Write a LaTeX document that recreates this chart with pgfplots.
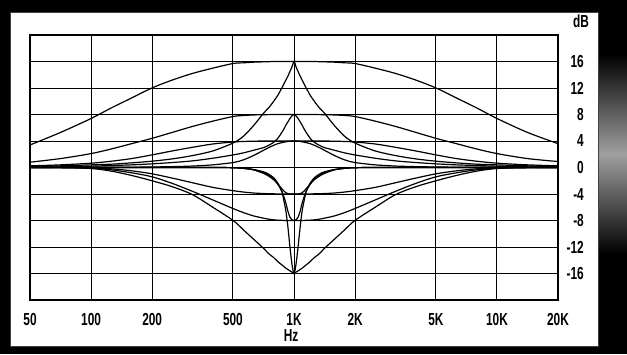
\documentclass[border=0pt]{standalone}
\usepackage{fontspec}
\setmainfont{Liberation Sans}[FakeStretch=0.68]
\usepackage{pgfplots}
\usepackage{pgfplotstable}
\pgfplotsset{compat=1.18}
\pgfplotsset{eq/.style={black, solid, line width=1.2bp, smooth, tension=0.5, mark=none}}

\pgfplotstableread{
f      W16   W8    W4    N16   N8    N4    C16W   C8W    C4W    C16N   C8N    C4N
50     3.4   0.8   0.25  0.15  0.05  0     0      0      0      0      0      0
70.79  5.3   1.35  0.4   0.25  0.1   0.02  -0.02  -0.02  0      0      0      0
100    7.4   2.1   0.65  0.4   0.2   0.03  -0.15  -0.1   -0.05  0      0      0
125.9  9.0   2.8   0.95  0.5   0.3   0.04  -0.55  -0.35  -0.2   0      0      0
158.5  10.5  3.6   1.35  0.7   0.4   0.05  -1.2   -0.8   -0.5   0      0      0
199.5  12.0  4.4   1.9   0.95  0.55  0.08  -2.0   -1.4   -0.95  0      0      0
251.2  13.2  5.3   2.5   1.3   0.75  0.13  -2.9   -2.4   -1.6   0      0      0
316.2  14.2  6.2   3.05  1.8   1.0   0.22  -4.1   -3.6   -2.3   0      0      0
398.1  15.0  7.0   3.55  2.5   1.4   0.4   -6.0   -4.9   -3.0   0      0      0
501.2  15.7  7.7   3.85  3.7   1.9   0.75  -8.0   -6.2   -3.5   -0.03  -0.03  -0.03
562.3  15.8  7.85  3.93  4.7   2.2   1.15  -9.4   -6.8   -3.7   -0.12  -0.12  -0.12
631.0  15.9  7.93  3.97  6.3   2.6   1.8   -10.8  -7.3   -3.85  -0.3   -0.33  -0.35
707.9  15.95 7.97  4.0   8.2   3.0   2.6   -12.2  -7.65  -3.93  -0.65  -0.75  -0.9
749.9  15.97 7.98  4.0   9.0   3.35  3.0   -13.0  -7.8   -3.96  -1.0   -1.15  -1.3
794.3  16    8     4     10.0  3.8   3.35  -13.6  -7.9   -3.97  -1.55  -1.7   -1.85
831.8  16    8     4     10.9  4.4   3.6   -14.2  -7.95  -4     -2.35  -2.5   -2.5
871.0  16    8     4     12.0  5.3   3.75  -14.7  -7.97  -4     -3.6   -3.6   -3.2
891.3  16    8     4     12.6  5.8   3.82  -14.95 -8     -4     -5.0   -4.4   -3.55
912.0  16    8     4     13.2  6.4   3.88  -15.2  -8     -4     -6.6   -5.4   -3.8
933.3  16    8     4     13.8  6.9   3.93  -15.4  -8     -4     -9.0   -6.6   -3.95
955.0  16    8     4     14.5  7.4   3.97  -15.6  -8     -4     -12.0  -7.5   -4
977.2  16    8     4     15.2  7.8   4.0   -15.8  -8     -4     -14.6  -7.9   -4
1000   16    8     4     16    8     4     -16    -8     -4     -16    -8     -4
1023   16    8     4     15.2  7.8   4.0   -15.8  -8     -4     -14.6  -7.9   -4
1047   16    8     4     14.5  7.4   3.97  -15.6  -8     -4     -12.0  -7.5   -4
1072   16    8     4     13.8  6.9   3.93  -15.4  -8     -4     -9.0   -6.6   -3.95
1096   16    8     4     13.2  6.4   3.88  -15.2  -8     -4     -6.6   -5.4   -3.8
1122   16    8     4     12.6  5.8   3.82  -14.95 -8     -4     -5.0   -4.4   -3.55
1148   16    8     4     12.0  5.3   3.75  -14.7  -7.97  -4     -3.6   -3.6   -3.2
1202   16    8     4     10.9  4.4   3.6   -14.2  -7.95  -4     -2.35  -2.5   -2.5
1259   16    8     4     10.0  3.8   3.35  -13.6  -7.9   -3.97  -1.55  -1.7   -1.85
1334   15.97 7.98  4.0   9.0   3.35  3.0   -13.0  -7.8   -3.96  -1.0   -1.15  -1.3
1413   15.95 7.97  4.0   8.2   3.0   2.6   -12.2  -7.65  -3.93  -0.65  -0.75  -0.9
1585   15.9  7.93  3.97  6.3   2.6   1.8   -10.8  -7.3   -3.85  -0.3   -0.33  -0.35
1778   15.8  7.85  3.93  4.7   2.2   1.15  -9.4   -6.8   -3.7   -0.12  -0.12  -0.12
1995   15.7  7.7   3.85  3.7   1.9   0.75  -8.0   -6.2   -3.5   -0.03  -0.03  -0.03
2512   15.0  7.0   3.55  2.5   1.4   0.4   -6.0   -4.9   -3.0   0      0      0
3162   14.2  6.2   3.05  1.8   1.0   0.22  -4.1   -3.6   -2.3   0      0      0
3981   13.2  5.3   2.5   1.3   0.75  0.13  -2.9   -2.4   -1.6   0      0      0
5012   12.0  4.4   1.9   0.95  0.55  0.08  -2.0   -1.4   -0.95  0      0      0
6310   10.5  3.6   1.35  0.7   0.4   0.05  -1.2   -0.8   -0.5   0      0      0
7943   9.0   2.8   0.95  0.5   0.3   0.04  -0.55  -0.35  -0.2   0      0      0
10000  7.4   2.1   0.65  0.4   0.2   0.03  -0.15  -0.1   -0.05  0      0      0
14125  5.3   1.35  0.4   0.25  0.1   0.02  -0.02  -0.02  0      0      0      0
20000  3.6   0.9   0.25  0.15  0.05  0     0      0      0      0      0      0
}\eqdata

\begin{document}
\begin{tikzpicture}[x=1bp,y=1bp]
\fill[black] (0,0) rectangle (627,354);
\shade[top color=black, bottom color=black, middle color=gray!75] (599,100) rectangle (627,300);
\fill[white] (10,8) rectangle (598,342);
\draw[black!75, line width=0.8bp] (10,8) rectangle (598,342);
\begin{axis}[
  at={(30bp,54bp)}, anchor=south west,
  scale only axis, width=528bp, height=265bp,
  xmode=log, xmin=50, xmax=20000,
  xtick={50,100,200,500,1000,2000,5000,10000,20000},
  xticklabels={50,100,200,500,1K,2K,5K,10K,20K},
  minor xtick={},
  ymin=-20, ymax=20,
  ytick={-20,-16,-12,-8,-4,0,4,8,12,16,20},
  yticklabels={,-16,-12,-8,-4,0,4,8,12,16,},
  yticklabel pos=right,
  grid=major,
  major grid style={black, line width=1bp},
  axis line style={black, line width=1.2bp},
  major tick length=0pt,
  tick label style={font=\fontsize{17.5}{17.5}\selectfont\bfseries, inner sep=0pt},
  xticklabel style={anchor=north, yshift=-13bp},
  yticklabel style={anchor=east, xshift=26bp},
]
\addplot[eq] table[x=f, y=W16] {\eqdata};
\addplot[eq] table[x=f, y=W8] {\eqdata};
\addplot[eq] table[x=f, y=W4] {\eqdata};
\addplot[eq] table[x=f, y=N16] {\eqdata};
\addplot[eq] table[x=f, y=N8] {\eqdata};
\addplot[eq] table[x=f, y=N4] {\eqdata};
\addplot[eq] table[x=f, y=C16W] {\eqdata};
\addplot[eq] table[x=f, y=C8W] {\eqdata};
\addplot[eq] table[x=f, y=C4W] {\eqdata};
\addplot[eq] table[x=f, y=C16N] {\eqdata};
\addplot[eq] table[x=f, y=C8N] {\eqdata};
\addplot[eq] table[x=f, y=C4N] {\eqdata};
\end{axis}
\node[anchor=north east, inner sep=0pt, font=\fontsize{17.5}{17.5}\selectfont\bfseries] at (589,339) {dB};
\node[anchor=north, inner sep=0pt, font=\fontsize{17.5}{17.5}\selectfont\bfseries] at (291,25) {Hz};
\end{tikzpicture}
\end{document}
